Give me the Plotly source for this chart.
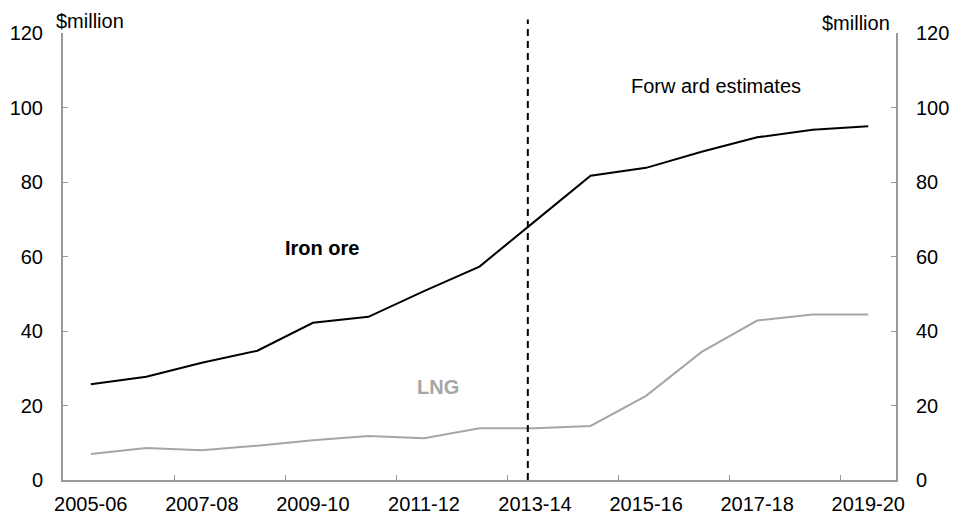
import plotly.graph_objects as go

categories = ["2005-06", "2006-07", "2007-08", "2008-09", "2009-10", "2010-11", "2011-12",
              "2012-13", "2013-14", "2014-15", "2015-16", "2016-17", "2017-18", "2018-19", "2019-20"]
iron_ore = [25.7, 27.7, 31.5, 34.7, 42.2, 43.8, 50.7, 57.3, 69.5, 81.7, 83.8, 88.1, 92.0, 94.0, 95.0]
lng = [7.0, 8.6, 8.0, 9.2, 10.7, 11.8, 11.2, 13.9, 13.9, 14.5, 22.6, 34.4, 42.8, 44.4, 44.4]
y_ticks = [0, 20, 40, 60, 80, 100, 120]
forecast_start = 7.87  # position of dashed divider (category index)

x_idx = list(range(len(categories)))
label_idx = x_idx[::2]
label_text = categories[::2]
minor_idx = [i + 1.5 for i in range(0, len(categories) - 2, 2)]

FONT = "Liberation Sans, Arial, sans-serif"
AXIS_COL = "#9a9a9a"
FS = 20

fig = go.Figure()
fig.add_trace(go.Scatter(x=x_idx, y=iron_ore, mode="lines", name="Iron ore",
                         line=dict(color="black", width=2), showlegend=False))
fig.add_trace(go.Scatter(x=x_idx, y=lng, mode="lines", name="LNG",
                         line=dict(color="#a6a6a6", width=2), showlegend=False))
# invisible trace to activate the right axis
fig.add_trace(go.Scatter(x=x_idx, y=iron_ore, mode="lines", yaxis="y2",
                         line=dict(width=0), opacity=0, hoverinfo="skip", showlegend=False))

fig.add_shape(type="line", xref="x", yref="paper", x0=forecast_start, x1=forecast_start,
              y0=0, y1=1.03, line=dict(color="black", width=2, dash="7px,5px"))

fig.add_annotation(x=4.17, y=62.3, text="<b>Iron ore</b>", showarrow=False,
                   font=dict(size=FS, color="black", family=FONT))
fig.add_annotation(x=6.25, y=25.0, text="<b>LNG</b>", showarrow=False,
                   font=dict(size=FS, color="#a6a6a6", family=FONT))
fig.add_annotation(x=11.25, y=105.8, text="Forw ard estimates", showarrow=False,
                   font=dict(size=FS, color="black", family=FONT))
fig.add_annotation(x=0, y=1, xref="paper", yref="paper", text="$million", showarrow=False,
                   xanchor="left", yanchor="bottom", xshift=-9, yshift=-1,
                   font=dict(size=FS, color="black", family=FONT))
fig.add_annotation(x=1, y=1, xref="paper", yref="paper", text="$million", showarrow=False,
                   xanchor="right", yanchor="bottom", xshift=-4, yshift=-3,
                   font=dict(size=FS, color="black", family=FONT))

fig.update_layout(
    width=953, height=518,
    margin=dict(l=63, r=57, t=33, b=38),
    paper_bgcolor="white", plot_bgcolor="white",
    font=dict(family=FONT, size=FS, color="black"),
    xaxis=dict(range=[-0.5, 14.5], tickmode="array", tickvals=label_idx, ticktext=label_text,
               ticks="", showgrid=False, zeroline=False, showline=True, linecolor=AXIS_COL,
               linewidth=2, ticklabelstandoff=5, automargin=False,
               minor=dict(tickmode="array", tickvals=minor_idx, ticks="inside", ticklen=5,
                          tickcolor=AXIS_COL, tickwidth=1, showgrid=False)),
    yaxis=dict(range=[0, 120], tickmode="array", tickvals=y_ticks, ticks="inside", ticklen=5,
               tickcolor=AXIS_COL, showgrid=False, zeroline=False, showline=True,
               linecolor=AXIS_COL, linewidth=2, ticklabelstandoff=14, automargin=False),
    yaxis2=dict(range=[0, 120], tickmode="array", tickvals=y_ticks, ticks="inside", ticklen=5,
                tickcolor=AXIS_COL, showgrid=False, zeroline=False, showline=True,
                linecolor=AXIS_COL, linewidth=2, overlaying="y", side="right",
                ticklabelstandoff=14, automargin=False),
)

fig.write_html("out.html", config={"displayModeBar": False},
               post_script="document.body.style.margin='0';document.body.style.overflow='hidden';")
